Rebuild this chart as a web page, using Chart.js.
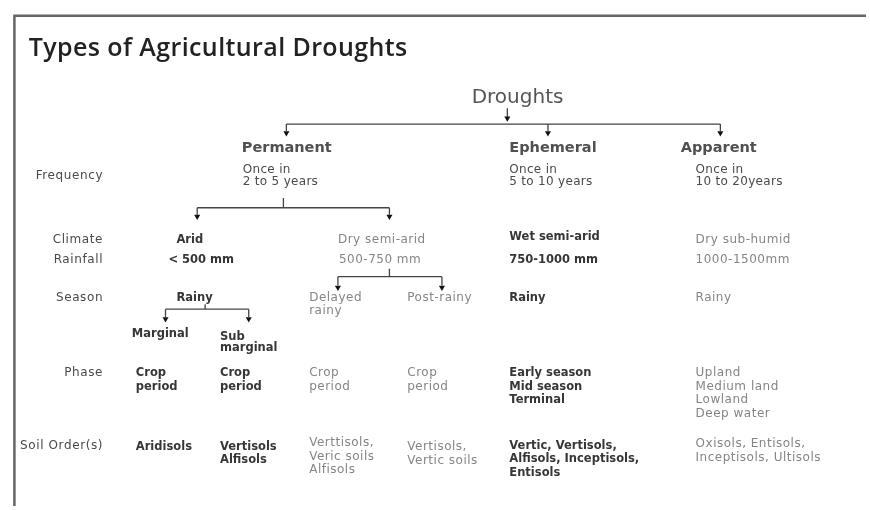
<!DOCTYPE html>
<html>
<head>
<meta charset="utf-8">
<script src="https://cdn.jsdelivr.net/npm/chart.js@4"></script>
<style>
  html, body { margin: 0; padding: 0; background: #fff; }
  #wrap { width: 870px; height: 510px; }
</style>
</head>
<body>
<div id="wrap"><canvas id="myChart" width="870" height="510"></canvas></div>
<script>
// ---- data ----
const title = "Types of Agricultural Droughts";
const rootLabel = "Droughts";
const rowLabels = ["Frequency", "Climate", "Rainfall", "Season", "Phase", "Soil Order(s)"];
const droughtTypes = ["Permanent", "Ephemeral", "Apparent"];
const frequency = [["Once in", "2 to 5 years"], ["Once in", "5 to 10 years"], ["Once in", "10 to 20years"]];
const climates = ["Arid", "Dry semi-arid", "Wet semi-arid", "Dry sub-humid"];
const rainfall = ["< 500 mm", "500-750 mm", "750-1000 mm", "1000-1500mm"];
const seasons = [["Rainy"], ["Delayed", "rainy"], ["Post-rainy"], ["Rainy"], ["Rainy"]];
const subSeasons = [["Marginal"], ["Sub", "marginal"]];
const phases = [
  ["Crop", "period"], ["Crop", "period"], ["Crop", "period"], ["Crop", "period"],
  ["Early season", "Mid season", "Terminal"],
  ["Upland", "Medium land", "Lowland", "Deep water"]
];
const soilOrders = [
  ["Aridisols"],
  ["Vertisols", "Alfisols"],
  ["Verttisols,", "Veric soils", "Alfisols"],
  ["Vertisols,", "Vertic soils"],
  ["Vertic, Vertisols,", "Alfisols, Inceptisols,", "Entisols"],
  ["Oxisols, Entisols,", "Inceptisols, Ultisols"]
];

// ---- layout (page units, 870 x 510) ----
const rowY = [175, 240, 260, 299, 375, 449];
const typeX = [240, 510, 683];
const freqX = [241, 510, 698];
const climateX = [174, 337, 510, 698];
const rainX = [166, 338, 510, 698];
const seasonX = [174, 308, 407, 510, 698];
const subSeasonX = [129, 218];
const leafX = [133, 218, 308, 407, 510, 698];
const soilY = [450, 450, 446, 450, 449, 447];
const dark = "#363636", grey = "#858585", label = "#4a4a4a";
const climateCol = [dark, grey, dark, grey];
const seasonCol = [dark, grey, grey, dark, grey];
const leafCol = [dark, dark, grey, grey, dark, grey];

// connectors: stub [x, y0, y1], bar y, drops, arrow tip y
const connectors = [
  { stub: [508, 106, 118], bar: null },
  { stub: null, bar: 122, from: 285, to: 723, drops: [285, 549, 723], tip: 133 },
  { stub: [282, 197, 207], bar: 207, from: 195, to: 389, drops: [195, 389], tip: 218 },
  { stub: [389, 269, 277], bar: 277, from: 337, to: 442, drops: [337, 442], tip: 290 },
  { stub: [203, 305, 310], bar: 310, from: 163, to: 247, drops: [163, 247], tip: 322 }
];

const arrowTips = [{ x: 508, y: 116 }];
connectors.forEach(c => { if (c.drops) c.drops.forEach(d => arrowTips.push({ x: d, y: c.tip - 2 })); });

const styleOf = col => col === dark
  ? { font: "bold 11.5px 'DejaVu Sans'", ls: "0px" }
  : { font: "12px 'DejaVu Sans'", ls: "0.5px" };

const diagram = {
  id: "diagram",
  beforeDatasetsDraw(chart) {
    const { ctx, scales } = chart;
    const X = v => scales.x.getPixelForValue(v);
    const Y = v => scales.y.getPixelForValue(v);
    ctx.save();
    // frame
    ctx.strokeStyle = "#666";
    ctx.lineWidth = 2.5;
    ctx.beginPath();
    ctx.moveTo(X(10.5), Y(510));
    ctx.lineTo(X(10.5), Y(12));
    ctx.lineTo(X(870), Y(12));
    ctx.stroke();
    // connectors
    ctx.strokeStyle = "#444";
    ctx.lineWidth = 1.3;
    connectors.forEach(c => {
      ctx.beginPath();
      if (c.stub) { ctx.moveTo(X(c.stub[0]), Y(c.stub[1])); ctx.lineTo(X(c.stub[0]), Y(c.stub[2])); }
      if (c.bar) {
        ctx.moveTo(X(c.from), Y(c.bar)); ctx.lineTo(X(c.to), Y(c.bar));
        c.drops.forEach(d => { ctx.moveTo(X(d), Y(c.bar)); ctx.lineTo(X(d), Y(c.tip - 4)); });
      }
      ctx.stroke();
    });
    ctx.restore();
  },
  afterDraw(chart) {
    const { ctx, scales } = chart;
    const X = v => scales.x.getPixelForValue(v);
    const Y = v => scales.y.getPixelForValue(v);
    const text = (lines, x, y, font, color, align, lh, ls) => {
      ctx.font = font;
      ctx.fillStyle = color;
      ctx.letterSpacing = ls || "0px";
      ctx.textAlign = align || "left";
      ctx.textBaseline = "middle";
      [].concat(lines).forEach((s, i) => ctx.fillText(s, X(x), Y(y + i * (lh || 13.7))));
    };
    const cell = (lines, x, y, col, lh) => {
      const st = styleOf(col);
      text(lines, x, y, st.font, col, "left", lh, st.ls);
    };
    ctx.save();
    text(title, 25, 46, "600 25px 'Open Sans'", "#222", "left", 0, "0.4px");
    text(rootLabel, 472, 95, "20px 'DejaVu Sans'", "#555");
    rowLabels.forEach((s, i) => text(s, 100, rowY[i], "12px 'DejaVu Sans'", label, "right", 0, "0.6px"));
    droughtTypes.forEach((s, i) => text(s, typeX[i], 147, "bold 14.5px 'DejaVu Sans'", "#505050"));
    frequency.forEach((s, i) => text(s, freqX[i], 169, "12px 'DejaVu Sans'", "#4a4a4a", "left", 11.5, "0.3px"));
    climates.forEach((s, i) => cell(s, climateX[i], i === 2 ? 237 : 240, climateCol[i]));
    rainfall.forEach((s, i) => cell(s, rainX[i], 260, climateCol[i]));
    seasons.forEach((s, i) => cell(s, seasonX[i], 299, seasonCol[i], 13));
    subSeasons.forEach((s, i) => cell(s, subSeasonX[i], i ? 338 : 335, dark, 11));
    phases.forEach((s, i) => cell(s, leafX[i], 375, leafCol[i]));
    soilOrders.forEach((s, i) => cell(s, leafX[i], soilY[i], leafCol[i]));
    ctx.restore();
  }
};

const myChart = new Chart(document.getElementById("myChart").getContext("2d"), {
  type: "scatter",
  data: {
    datasets: [{
      data: arrowTips,
      pointStyle: "triangle",
      rotation: 180,
      radius: 3.5,
      backgroundColor: "#111",
      borderColor: "#111",
      borderWidth: 0
    }]
  },
  options: {
    responsive: false,
    animation: false,
    layout: { padding: 0 },
    plugins: { legend: { display: false }, tooltip: { enabled: false } },
    scales: {
      x: { type: "linear", min: 0, max: 870, display: false },
      y: { type: "linear", min: 0, max: 510, reverse: true, display: false }
    }
  },
  plugins: [diagram]
});
</script>
</body>
</html>
